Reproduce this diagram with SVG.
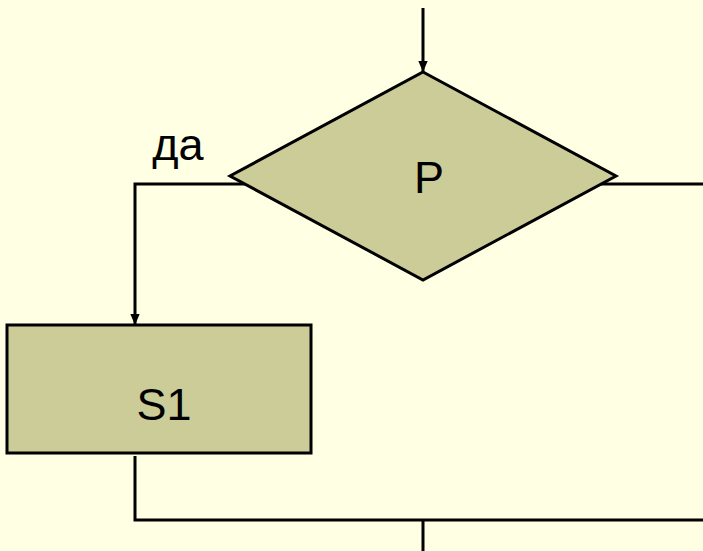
<svg xmlns="http://www.w3.org/2000/svg" width="703" height="551" viewBox="0 0 703 551">
<defs>
<marker id="ah" markerWidth="11" markerHeight="13" refX="13" refY="5.5" orient="auto" markerUnits="userSpaceOnUse" viewBox="0 0 13 11">
<path d="M0,0 L13,5.5 L0,11 Z" fill="#000"/>
</marker>
</defs>
<style>
.bg{fill:#FFFFE3}
.shape{fill:#CCCC99;stroke:#000;stroke-width:3}
.line{fill:none;stroke:#000;stroke-width:3}
.t{font-family:"Liberation Sans",Arial,sans-serif;font-size:45px;fill:#000}
</style>
<rect class="bg" width="703" height="551"/>
<g id="connectors">
<path class="line" d="M423,8 L423,72" marker-end="url(#ah)"/>
<path class="line" d="M245,184 L135,184 L135,325" marker-end="url(#ah)"/>
<path class="line" d="M601,184 L703,184"/>
<path class="line" d="M135,456 L135,520 L703,520"/>
<path class="line" d="M423,520 L423,551"/>
</g>
<g id="decision">
<polygon class="shape" points="423,72 616,176 423,280 230,176"/>
<text class="t" x="429" y="193" text-anchor="middle">P</text>
</g>
<g id="label-yes">
<text class="t" x="178" y="160" text-anchor="middle">да</text>
</g>
<g id="s1">
<rect class="shape" x="7" y="325" width="304" height="128"/>
<text class="t" x="164" y="420" text-anchor="middle">S1</text>
</g>
</svg>
